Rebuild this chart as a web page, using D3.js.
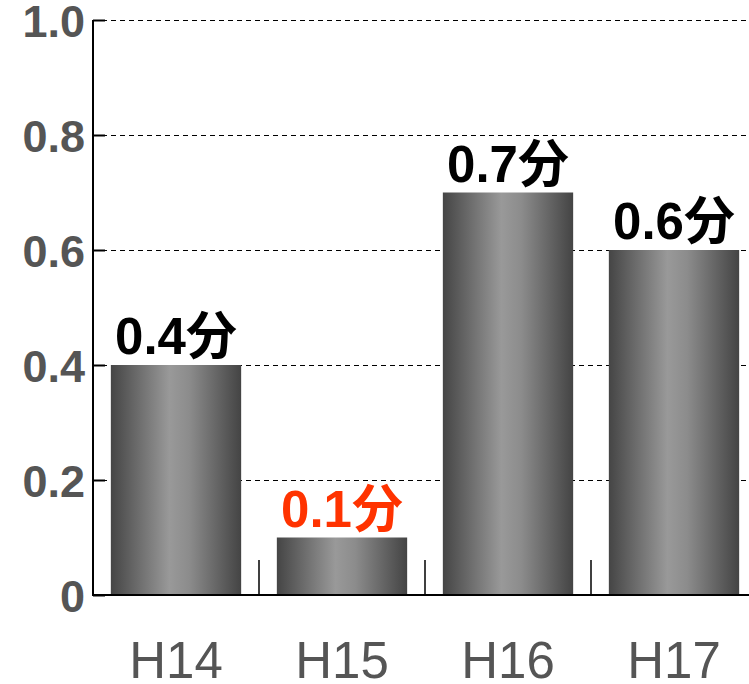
<!DOCTYPE html>
<html>
<head>
<meta charset="utf-8">
<script src="https://cdn.jsdelivr.net/npm/d3@7"></script>
<style>
  body { margin: 0; background: #fff; }
</style>
</head>
<body>
<div id="chart"></div>
<script>
const years = ["H14", "H15", "H16", "H17"];
const values = [0.4, 0.1, 0.7, 0.6];
const valueLabels = ["0.4分", "0.1分", "0.7分", "0.6分"];
const labelColors = ["#000", "#ff3300", "#000", "#000"];
const yTicks = [0, 0.2, 0.4, 0.6, 0.8, 1.0];

const width = 749, height = 684;
const plot = { left: 93, top: 20, bottom: 595, right: 757 };

const svg = d3.select("#chart").append("svg")
  .attr("width", width)
  .attr("height", height);

const grad = svg.append("defs").append("linearGradient")
  .attr("id", "barGrad")
  .attr("x1", "0%").attr("x2", "100%").attr("y1", "0%").attr("y2", "0%");
grad.append("stop").attr("offset", "0%").attr("stop-color", "#454545");
grad.append("stop").attr("offset", "45%").attr("stop-color", "#999");
grad.append("stop").attr("offset", "60%").attr("stop-color", "#8c8c8c");
grad.append("stop").attr("offset", "100%").attr("stop-color", "#444");

const x = d3.scaleBand()
  .domain(years)
  .range([plot.left, plot.right])
  .paddingInner(0.215)
  .paddingOuter(0.1075);

const y = d3.scaleLinear()
  .domain([0, 1])
  .range([plot.bottom, plot.top]);

// dashed grid
svg.append("g")
  .selectAll("line")
  .data(yTicks.filter(d => d > 0))
  .enter().append("line")
  .attr("x1", plot.left).attr("x2", width)
  .attr("y1", d => Math.round(y(d)) + 0.5).attr("y2", d => Math.round(y(d)) + 0.5)
  .attr("stroke", "#000")
  .attr("stroke-width", 1)
  .attr("shape-rendering", "crispEdges")
  .attr("stroke-dasharray", "5,4");

// bars
svg.append("g")
  .selectAll("rect")
  .data(values)
  .enter().append("rect")
  .attr("x", (d, i) => x(years[i]))
  .attr("y", d => y(d))
  .attr("width", x.bandwidth())
  .attr("height", d => plot.bottom - y(d))
  .attr("fill", "url(#barGrad)");

// value labels
svg.append("g")
  .selectAll("text")
  .data(values)
  .enter().append("text")
  .attr("x", (d, i) => x(years[i]) + x.bandwidth() / 2)
  .attr("y", d => y(d) - 11)
  .attr("text-anchor", "middle")
  .attr("font-family", "Liberation Sans, Arial, Noto Sans CJK JP, sans-serif")
  .attr("font-weight", "bold")
  .attr("font-size", 51)
  .attr("fill", (d, i) => labelColors[i])
  .text((d, i) => valueLabels[i]);

// y axis
const yAxis = d3.axisRight(y)
  .tickValues(yTicks)
  .tickSize(12)
  .tickFormat(d => d === 0 ? "0" : d3.format(".1f")(d));

const ya = svg.append("g")
  .attr("transform", "translate(" + plot.left + ",0)")
  .call(yAxis);
ya.select(".domain").remove();
ya.selectAll(".tick line").attr("stroke", "#000").attr("stroke-width", 2);
ya.selectAll(".tick text")
  .attr("x", -8)
  .attr("dy", "0.36em")
  .attr("text-anchor", "end")
  .attr("font-family", "Liberation Sans, Arial, sans-serif")
  .attr("font-weight", "bold")
  .attr("font-size", 45)
  .attr("fill", "#555");

svg.append("line")
  .attr("x1", plot.left).attr("x2", plot.left)
  .attr("y1", plot.top).attr("y2", plot.bottom + 1)
  .attr("stroke", "#000").attr("stroke-width", 2);

// x axis
const xAxis = d3.axisBottom(x).tickSize(0).tickPadding(47);
const xa = svg.append("g")
  .attr("transform", "translate(0," + plot.bottom + ")")
  .call(xAxis);
xa.select(".domain").remove();
xa.selectAll(".tick text")
  .attr("font-family", "Liberation Sans, Arial, sans-serif")
  .attr("font-size", 51)
  .attr("fill", "#555");

svg.append("line")
  .attr("x1", plot.left).attr("x2", width)
  .attr("y1", plot.bottom).attr("y2", plot.bottom)
  .attr("stroke", "#000").attr("stroke-width", 2);

// category separators
svg.append("g")
  .selectAll("line")
  .data(years.slice(1))
  .enter().append("line")
  .attr("x1", d => x(d) - x.step() * x.paddingInner() / 2)
  .attr("x2", d => x(d) - x.step() * x.paddingInner() / 2)
  .attr("y1", plot.bottom - 35).attr("y2", plot.bottom)
  .attr("stroke", "#000").attr("stroke-width", 1.5);
</script>
</body>
</html>
